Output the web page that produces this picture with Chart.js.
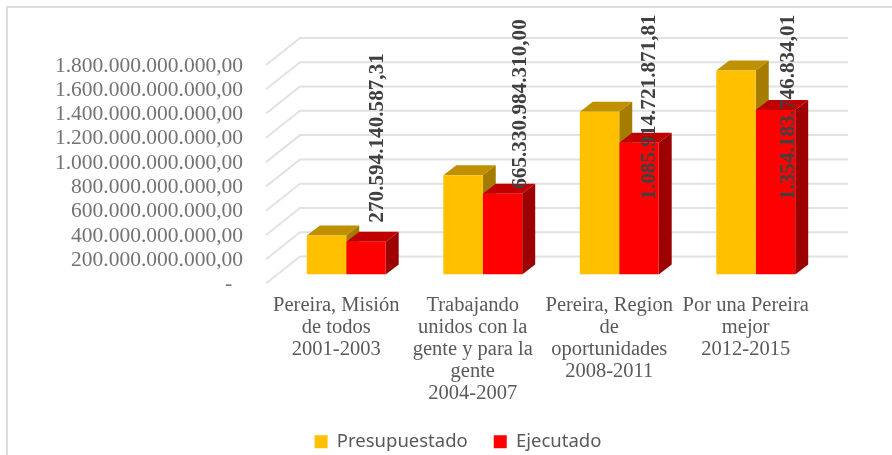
<!DOCTYPE html>
<html><head><meta charset="utf-8">
<style>html,body{margin:0;padding:0;background:#fff}#w{width:892px;height:455px}</style>
<script src="https://cdn.jsdelivr.net/npm/chart.js@4"></script></head>
<body><div id="w"><canvas id="c"></canvas></div>
<script>
const categories=[["Pereira, Misión","de todos","2001-2003"],["Trabajando","unidos con la","gente y para la","gente","2004-2007"],["Pereira, Region","de","oportunidades","2008-2011"],["Por una Pereira","mejor","2012-2015"]];
const presupuestado=[322e9,818e9,1340e9,1680e9];
const ejecutado=[270594140587.31,665330984310.00,1085914721871.81,1354183746834.01];
const ejecutadoLabels=["270.594.140.587,31","665.330.984.310,00","1.085.914.721.871,81","1.354.183.746.834,01"];
const yTickLabels=["-  ","200.000.000.000,00","400.000.000.000,00","600.000.000.000,00","800.000.000.000,00","1.000.000.000.000,00","1.200.000.000.000,00","1.400.000.000.000,00","1.600.000.000.000,00","1.800.000.000.000,00"];
const labelBaseShift=[-19,-5,57,90];
const labelXShift=[12,18,11,13];

const decor={id:'decor',
 afterLayout(ch){const l=ch.legend;l.left+=46;l.right+=46;l.top-=3;l.bottom-=3;},
 beforeDatasetsDraw(ch){const c=ch.ctx,y=ch.scales.y;c.save();
  c.strokeStyle='#e2e2e2';c.lineWidth=2;
  y.ticks.forEach(t=>{const p=y.getPixelForValue(t.value);
   c.beginPath();c.moveTo(266,p+9);c.lineTo(300,p-18);c.lineTo(848,p-18);c.stroke();});
  c.strokeStyle='#dcdcdc';c.lineWidth=2;c.beginPath();c.moveTo(7,455);c.lineTo(7,7);c.lineTo(892,7);c.stroke();
  c.restore();
  const dx=13,dy=10,shades=[['#bf9000','#a67c00'],['#c00000','#9c0000']];
  [0,1].forEach(i=>{ch.getDatasetMeta(i).data.forEach(b=>{
    const w=b.width,l=b.x-w/2,r=b.x+w/2,t=b.y,bt=b.base;
    c.fillStyle=shades[i][0];c.beginPath();c.moveTo(l,t);c.lineTo(l+dx,t-dy);c.lineTo(r+dx,t-dy);c.lineTo(r,t);c.fill();
    c.fillStyle=shades[i][1];c.beginPath();c.moveTo(r,t);c.lineTo(r+dx,t-dy);c.lineTo(r+dx,bt-dy);c.lineTo(r,bt);c.fill();
  });});
 },
 afterDatasetsDraw(ch){const c=ch.ctx;c.save();c.fillStyle='#404040';c.font='bold 21.2px "Liberation Serif"';c.textBaseline='middle';c.textAlign='left';
  ch.getDatasetMeta(1).data.forEach((b,i)=>{c.save();c.translate(b.x+labelXShift[i],b.y+labelBaseShift[i]);c.rotate(-Math.PI/2);c.fillText(ejecutadoLabels[i],0,0);c.restore();});
  c.restore();}
};
new Chart(document.getElementById('c'),{type:'bar',
 data:{labels:categories,datasets:[
  {label:'Presupuestado',data:presupuestado,backgroundColor:'#ffc000',barPercentage:1,categoryPercentage:0.578},
  {label:'Ejecutado',data:ejecutado,backgroundColor:'#ff0000',barPercentage:1,categoryPercentage:0.578}]},
 options:{responsive:true,maintainAspectRatio:false,animation:false,
  layout:{padding:{top:56,right:68,left:0,bottom:-9}},
  plugins:{tooltip:{enabled:false},title:{display:false},
   legend:{position:'bottom',labels:{boxWidth:13,boxHeight:13,padding:26,color:'#595959',font:{family:'"Noto Sans"',size:18.5}}}},
  scales:{
   x:{grid:{display:false},border:{display:false},afterFit(s){s.height=135;},
    ticks:{padding:12,labelOffset:-10,color:'#595959',maxRotation:0,autoSkip:false,font:{family:'"Liberation Serif"',size:20.5,lineHeight:1.07}}},
   y:{min:0,max:1.8e12,afterFit(s){s.width=278;},grid:{display:false},border:{display:false},
    ticks:{stepSize:2e11,autoSkip:false,padding:27,labelOffset:10,color:'#737373',font:{family:'"Liberation Serif"',size:21.5},callback(v,i){return yTickLabels[i];}}}
  }},
 plugins:[decor]});
</script></body></html>
